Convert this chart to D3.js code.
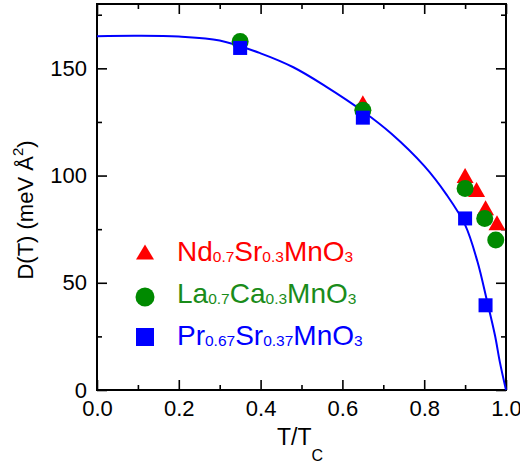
<!DOCTYPE html>
<html><head><meta charset="utf-8">
<script src="https://cdn.jsdelivr.net/npm/d3@7"></script>
<style>
html,body{margin:0;padding:0;background:#fff;}
text{font-family:"Liberation Sans",Arial,sans-serif;}
</style></head>
<body><svg id="c" width="520" height="465"></svg>
<script>
// ---- data ----
const xMajorTicks = [0, 0.2, 0.4, 0.6, 0.8, 1.0];
const xMinorTicks = [0.1, 0.3, 0.5, 0.7, 0.9];
const yMajorTicks = [0, 50, 100, 150];
const yMinorTicks = [25, 75, 125, 175];

const fitT = [0, 0.1, 0.2, 0.3, 0.4, 0.48, 0.56, 0.65, 0.72, 0.8, 0.855, 0.9, 0.93, 0.953, 0.973, 0.985, 1.0];
const fitD = [165, 165.2, 164.8, 163, 157, 150.5, 141.5, 130, 119.5, 104.5, 91, 77, 60, 42, 25.5, 13, 0];

const ndT = [0.65, 0.9, 0.928, 0.95, 0.978];
const ndD = [134, 100, 93.5, 85, 78];
const laT = [0.35, 0.65, 0.9, 0.948, 0.975];
const laD = [162.5, 130.5, 94, 80, 70];
const prT = [0.35, 0.65, 0.9, 0.95];
const prD = [159.5, 127, 80, 39.5];

const legendNames = [
  [["Nd",0],["0.7",1],["Sr",0],["0.3",1],["MnO",0],["3",1]],
  [["La",0],["0.7",1],["Ca",0],["0.3",1],["MnO",0],["3",1]],
  [["Pr",0],["0.67",1],["Sr",0],["0.37",1],["MnO",0],["3",1]]
];
const colors = ["#ff0000", "#008a00", "#0000ff"];
const textColors = ["#ff0000", "#1a8c1a", "#0000ff"];

// ---- layout ----
const L = 97, R = 506, T = 4, B = 390;
const svg = d3.select("#c");
const x = d3.scaleLinear().domain([0, 1]).range([L, R]);
const y = d3.scaleLinear().domain([0, 180]).range([B, T]);

function styleAxis(g){
  g.select(".domain").remove();
  g.selectAll(".tick line").attr("stroke","#000").attr("stroke-width",1.6);
  g.selectAll(".tick text").attr("fill","#000").style("font-size","22px")
   .style("font-family",'"Liberation Sans",Arial,sans-serif');
}
// bottom
svg.append("g").attr("transform",`translate(0,${B})`)
  .call(d3.axisBottom(x).tickValues(xMajorTicks).tickSize(-10).tickPadding(10).tickFormat(d3.format(".1f"))).call(styleAxis);
svg.append("g").attr("transform",`translate(0,${B})`)
  .call(d3.axisBottom(x).tickValues(xMinorTicks).tickSize(-5).tickFormat("")).call(styleAxis);
// top
svg.append("g").attr("transform",`translate(0,${T})`)
  .call(d3.axisTop(x).tickValues(xMajorTicks).tickSize(-10).tickFormat("")).call(styleAxis);
svg.append("g").attr("transform",`translate(0,${T})`)
  .call(d3.axisTop(x).tickValues(xMinorTicks).tickSize(-5).tickFormat("")).call(styleAxis);
// left
svg.append("g").attr("transform",`translate(${L},0)`)
  .call(d3.axisLeft(y).tickValues(yMajorTicks).tickSize(-10).tickPadding(10).tickFormat(d3.format("d"))).call(styleAxis);
svg.append("g").attr("transform",`translate(${L},0)`)
  .call(d3.axisLeft(y).tickValues(yMinorTicks).tickSize(-5).tickFormat("")).call(styleAxis);
// right
svg.append("g").attr("transform",`translate(${R},0)`)
  .call(d3.axisRight(y).tickValues(yMajorTicks).tickSize(-10).tickFormat("")).call(styleAxis);
svg.append("g").attr("transform",`translate(${R},0)`)
  .call(d3.axisRight(y).tickValues(yMinorTicks).tickSize(-5).tickFormat("")).call(styleAxis);

// frame
svg.append("rect").attr("x",L).attr("y",T).attr("width",R-L).attr("height",B-T)
  .attr("fill","none").attr("stroke","#000").attr("stroke-width",2);

// fit curve
const fit = fitT.map((t,i)=>[t, fitD[i]]);
svg.append("path").datum(fit)
  .attr("d", d3.line().x(d=>x(d[0])).y(d=>y(d[1])).curve(d3.curveCatmullRom.alpha(0.5)))
  .attr("fill","none").attr("stroke","#0000ff").attr("stroke-width",2);

function triPath(w,h){ return `M0,${-h/2}L${w/2},${h/2}L${-w/2},${h/2}Z`; }

// triangles
svg.append("g").selectAll("path").data(ndT.map((t,i)=>[t,ndD[i]])).join("path")
  .attr("d", triPath(17,15)).attr("transform", d=>`translate(${x(d[0])},${y(d[1])})`)
  .attr("fill", colors[0]);
// circles
svg.append("g").selectAll("circle").data(laT.map((t,i)=>[t,laD[i]])).join("circle")
  .attr("cx", d=>x(d[0])).attr("cy", d=>y(d[1])).attr("r", 8.5).attr("fill", colors[1]);
// squares
svg.append("g").selectAll("rect").data(prT.map((t,i)=>[t,prD[i]])).join("rect")
  .attr("x", d=>x(d[0])-7).attr("y", d=>y(d[1])-7).attr("width",14).attr("height",14).attr("fill", colors[2]);

// legend
const legX = 145, legY = [252, 297, 337], textX = 177, textBase = [261, 303, 345];
const lg = svg.append("g");
lg.append("path").attr("d", triPath(18,15)).attr("transform",`translate(${legX},${legY[0]})`).attr("fill",colors[0]);
lg.append("circle").attr("cx",legX).attr("cy",legY[1]).attr("r",9.5).attr("fill",colors[1]);
lg.append("rect").attr("x",legX-9).attr("y",legY[2]-9).attr("width",18).attr("height",18).attr("fill",colors[2]);
legendNames.forEach((parts,i)=>{
  const t = lg.append("text").attr("x",textX).attr("y",textBase[i]).attr("fill",textColors[i]).style("font-size","28px");
  let prevSub = 0;
  parts.forEach(([s,sub])=>{
    const ts = t.append("tspan").text(s).style("font-size", sub ? "15.5px" : "28px");
    const dy = (sub ? 1 : 0) - prevSub;
    if (dy !== 0) ts.attr("dy", dy);
    prevSub = sub ? 1 : 0;
  });
});

// axis titles
const yt = svg.append("text").attr("transform","translate(33,210) rotate(-90)")
  .attr("text-anchor","middle").attr("fill","#000").style("font-size","22px");
yt.append("tspan").text("D(T) (meV Å");
yt.append("tspan").text("2").style("font-size","15px").attr("dy",-10);
yt.append("tspan").text(")").attr("dy",10);

const xt = svg.append("text").attr("x",277).attr("y",445).attr("fill","#000").style("font-size","23px");
xt.append("tspan").text("T/T");
xt.append("tspan").text("C").style("font-size","16px").attr("dy",16);
</script></body></html>
